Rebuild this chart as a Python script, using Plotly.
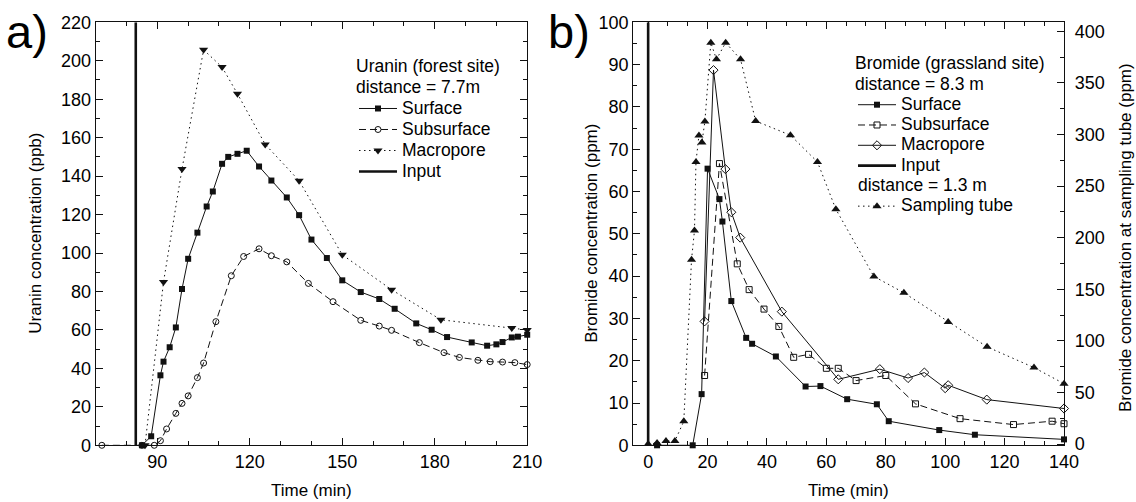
import plotly.graph_objects as go

# ---------------- Panel a: Uranin (forest site) ----------------
a_surface_t = [85, 88, 91, 92, 94, 96, 98, 100, 103, 106, 108, 111, 113, 116, 119,
               123, 127, 132, 136, 140, 145, 150, 156, 162, 167, 174, 179, 184, 192,
               197, 200, 202, 205, 207, 210]
a_surface_v = [0, 4.7, 36.4, 43.5, 51, 61.3, 81.3, 97, 110.6, 124.2, 132, 146.4, 150,
               151.6, 153.2, 145, 137.7, 128.9, 119.7, 107, 97.4, 85.8, 79.7, 76.1, 71,
               63.4, 60.1, 56.3, 53.5, 51.8, 52.5, 53.7, 56.1, 56.5, 57.5]

a_subsurface_t = [72, 85, 89, 91, 93, 96, 98, 100, 103, 105, 109, 114, 118, 123, 127,
                  132, 139, 147, 156, 162, 166, 175, 183, 188, 194, 198, 202, 206, 210]
a_subsurface_v = [0, 0, 0, 2.4, 8.5, 16.6, 21.8, 25.7, 35.2, 42.8, 64.3, 88.2, 98.2,
                  102.2, 98.6, 95.4, 84.2, 74.7, 65, 62, 59.8, 53.4, 48.2, 45.7, 44.2,
                  43.5, 43.3, 43, 42]

a_macropore_t = [86, 92, 98, 105, 111, 116, 125, 136, 150, 166, 182, 205, 210]
a_macropore_v = [0, 84.9, 143.7, 205.7, 196.7, 182.8, 156.5, 137.6, 99.1, 80.9, 65.3, 61, 60]

a_input_t = [83, 83]
a_input_v = [0, 220]

# ---------------- Panel b: Bromide (grassland site) ----------------
b_surface_t = [3, 15, 18, 20, 24, 25, 28, 33, 35, 43, 53, 58, 67, 77, 81, 98, 110, 140]
b_surface_v = [0, 0, 12.1, 65.4, 58.2, 52.9, 34.1, 25.4, 24, 21, 13.9, 14, 10.9, 9.7,
               5.7, 3.6, 2.5, 1.4]

b_subsurface_t = [19, 24, 30, 34, 39, 44, 49, 54, 60, 64, 70, 80, 90, 105, 123, 136, 140]
b_subsurface_v = [16.5, 66.6, 42.9, 36.8, 32.2, 28.1, 20.8, 21.5, 18.2, 18.2, 15.3,
                  16.5, 9.8, 6.3, 4.9, 5.7, 5.1]

b_macropore_t = [19, 22, 26, 28, 31, 45, 64, 78, 87.5, 93, 100, 101, 114, 140]
b_macropore_v = [29.3, 88.7, 65.3, 55.1, 49.1, 31.6, 15.6, 18, 15.9, 17.2, 13.5, 14.2,
                 10.8, 8.7]

b_input_t = [0, 0]
b_input_v = [0, 100]

b_tube_t = [0, 3, 6, 9, 12, 14.6, 15.6, 16.1, 17.1, 18.1, 19.1, 21.1, 23, 26.1, 31.1,
            36.2, 47.9, 57, 63.2, 76, 86.1, 101, 114.1, 129.9, 140]
b_tube_v = [0, 1, 3, 3, 22, 178.6, 207, 273.4, 299, 292.2, 312.6, 389, 372.8, 389,
            372.8, 313, 299.3, 273.4, 227.5, 162.4, 146.6, 118.4, 94.2, 74.1, 58.5]

FONT = "Liberation Sans, Arial, Helvetica, sans-serif"
W, H = 1136, 502
INK = "#111111"


def fx(p):
    return p / W


def fy(p):
    return 1 - p / H


def nm(s):
    return "<span style='font-size:17.5px'>" + s + "</span>"


fig = go.Figure()

# Panel a traces
fig.add_trace(go.Scatter(x=a_surface_t, y=a_surface_v, name=nm("Surface"), mode="lines+markers",
                         line=dict(color=INK, width=1), marker=dict(symbol="square", size=6, color=INK),
                         xaxis="x", yaxis="y", legend="legend", cliponaxis=False))
fig.add_trace(go.Scatter(x=a_subsurface_t, y=a_subsurface_v, name=nm("Subsurface"), mode="lines+markers",
                         line=dict(color=INK, width=1, dash="7px,4px"),
                         marker=dict(symbol="circle-open", size=6, color=INK, line=dict(width=1)),
                         xaxis="x", yaxis="y", legend="legend", cliponaxis=False))
fig.add_trace(go.Scatter(x=a_macropore_t, y=a_macropore_v, name=nm("Macropore"), mode="lines+markers",
                         line=dict(color=INK, width=1, dash="1.5px,3.5px"),
                         marker=dict(symbol="triangle-down", size=8, color=INK),
                         xaxis="x", yaxis="y", legend="legend", cliponaxis=False))
fig.add_trace(go.Scatter(x=a_input_t, y=a_input_v, name=nm("Input"), mode="lines",
                         line=dict(color=INK, width=2.6),
                         xaxis="x", yaxis="y", legend="legend"))

# Panel b traces
fig.add_trace(go.Scatter(x=b_surface_t, y=b_surface_v, name=nm("Surface"), mode="lines+markers",
                         line=dict(color=INK, width=1), marker=dict(symbol="square", size=6, color=INK),
                         xaxis="x2", yaxis="y2", legend="legend2", legendgroup="g1", cliponaxis=False))
fig.add_trace(go.Scatter(x=b_subsurface_t, y=b_subsurface_v, name=nm("Subsurface"), mode="lines+markers",
                         line=dict(color=INK, width=1, dash="7px,4px"),
                         marker=dict(symbol="square-open", size=6, color=INK, line=dict(width=1)),
                         xaxis="x2", yaxis="y2", legend="legend2", legendgroup="g1", cliponaxis=False))
fig.add_trace(go.Scatter(x=b_macropore_t, y=b_macropore_v, name=nm("Macropore"), mode="lines+markers",
                         line=dict(color=INK, width=1),
                         marker=dict(symbol="diamond-open", size=7, color=INK, line=dict(width=1)),
                         xaxis="x2", yaxis="y2", legend="legend2", legendgroup="g1", cliponaxis=False))
fig.add_trace(go.Scatter(x=b_input_t, y=b_input_v, name=nm("Input"), mode="lines",
                         line=dict(color=INK, width=2.6),
                         xaxis="x2", yaxis="y2", legend="legend2", legendgroup="g1"))
fig.add_trace(go.Scatter(x=b_tube_t, y=b_tube_v, name=nm("Sampling tube"), mode="lines+markers",
                         line=dict(color=INK, width=1, dash="1.5px,3.5px"),
                         marker=dict(symbol="triangle-up", size=8, color=INK),
                         xaxis="x2", yaxis="y3", legend="legend2", legendgroup="g2",
                         legendgrouptitle=dict(text="<span style='font-size:17.5px'>distance = 1.3 m</span>",
                                               font=dict(size=13.3, family=FONT, color="black")),
                         cliponaxis=False))

axis_common = dict(
    showline=True, linecolor=INK, linewidth=1.2, ticks="inside", ticklen=7, tickwidth=1,
    tickcolor=INK, showgrid=False, zeroline=False, automargin=False,
    tickfont=dict(size=18, family=FONT, color="black"),
)

ydom = [fy(445.3), fy(22.3)]

fig.update_layout(
    width=W, height=H, template="none",
    margin=dict(l=0, r=0, t=0, b=0),
    paper_bgcolor="white", plot_bgcolor="white",
    font=dict(family=FONT, color="black"),
    showlegend=True,
    xaxis=dict(axis_common, domain=[fx(95.7), fx(527.2)], range=[70, 210], tick0=0, dtick=30,
               mirror="ticks", anchor="y",
               minor=dict(ticks="inside", ticklen=4, tickcolor=INK, dtick=10, tick0=0, showgrid=False)),
    yaxis=dict(axis_common, domain=ydom, range=[0, 220], tick0=0, dtick=20, mirror="ticks", anchor="x",
               minor=dict(ticks="inside", ticklen=4, tickcolor=INK, dtick=10, tick0=0, showgrid=False)),
    xaxis2=dict(axis_common, domain=[fx(633.3), fx(1064)], range=[-5, 140], tick0=0, dtick=20,
                mirror="ticks", anchor="y2",
                minor=dict(ticks="inside", ticklen=4, tickcolor=INK, dtick=20 / 3, tick0=0, showgrid=False)),
    yaxis2=dict(axis_common, domain=ydom, range=[0, 100], tick0=0, dtick=10, anchor="x2",
                minor=dict(ticks="inside", ticklen=4, tickcolor=INK, dtick=5, tick0=0, showgrid=False)),
    yaxis3=dict(axis_common, domain=ydom, range=[-1.2, 408.7], tick0=0, dtick=50, anchor="x2",
                overlaying="y2", side="right", ticklabelstandoff=6,
                minor=dict(ticks="inside", ticklen=4, tickcolor=INK, dtick=25, tick0=0, showgrid=False)),
    legend=dict(
        x=fx(354), y=fy(51), xanchor="left", yanchor="top", bgcolor="rgba(0,0,0,0)",
        borderwidth=0, itemwidth=38, tracegroupgap=0,
        font=dict(size=13.85, family=FONT, color="black"),
        title=dict(text="<span style='font-size:17.5px'>Uranin (forest site)</span><br>"
                        "<span style='font-size:17.5px'>distance = 7.7m</span>",
                   font=dict(size=16.15, family=FONT, color="black")),
    ),
    legend2=dict(
        x=fx(853), y=fy(49), xanchor="left", yanchor="top", bgcolor="rgba(0,0,0,0)",
        borderwidth=0, itemwidth=38, tracegroupgap=0,
        font=dict(size=13.3, family=FONT, color="black"),
        title=dict(text="<span style='font-size:17.5px'>Bromide (grassland site)</span><br>"
                        "<span style='font-size:17.5px'>distance = 8.3 m</span>",
                   font=dict(size=15.6, family=FONT, color="black")),
    ),
)

annotations = [
    dict(text="a)", x=fx(4), y=fy(32), xanchor="left", yanchor="middle", font=dict(size=47)),
    dict(text="b)", x=fx(546), y=fy(32), xanchor="left", yanchor="middle", font=dict(size=47)),
    dict(text="Time (min)", x=fx(311.4), y=fy(490), xanchor="center", yanchor="middle", font=dict(size=17)),
    dict(text="Time (min)", x=fx(848.6), y=fy(490), xanchor="center", yanchor="middle", font=dict(size=17)),
    dict(text="Uranin concentration (ppb)", x=fx(36), y=fy(233.8), textangle=-90,
         xanchor="center", yanchor="middle", font=dict(size=17)),
    dict(text="Bromide concentration (ppm)", x=fx(592), y=fy(233.8), textangle=-90,
         xanchor="center", yanchor="middle", font=dict(size=17)),
    dict(text="Bromide concentration at sampling tube (ppm)", x=fx(1125), y=fy(238), textangle=-90,
         xanchor="center", yanchor="middle", font=dict(size=17)),
]
for a in annotations:
    a.update(xref="paper", yref="paper", showarrow=False)
    a["font"].update(family=FONT, color="black")
fig.update_layout(annotations=annotations)

fig.write_html("out.html", config={"displayModeBar": False},
               post_script="document.body.style.margin='0';document.body.style.overflow='hidden';")
